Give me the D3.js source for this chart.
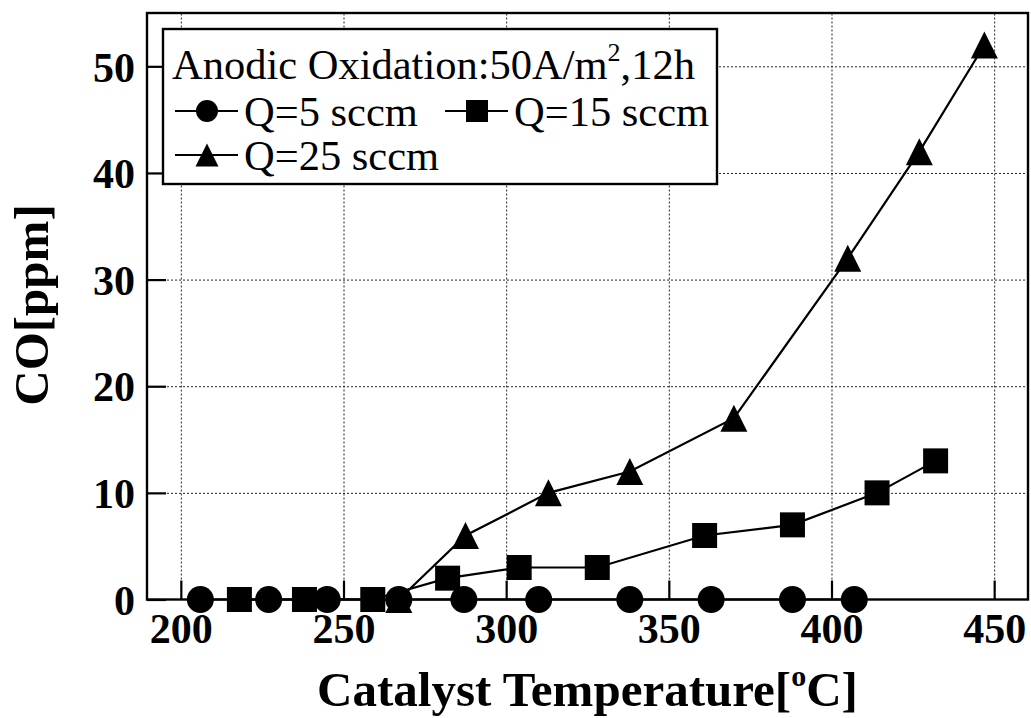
<!DOCTYPE html>
<html>
<head>
<meta charset="utf-8">
<script src="https://cdn.jsdelivr.net/npm/d3@7"></script>
<style>
  body { margin: 0; background: #fff; }
  svg text { font-family: "Liberation Serif", "Times New Roman", serif; fill: #000; }
</style>
</head>
<body>
<div id="chart"></div>
<script>
// Q = 5 sccm
const temp5 = [206, 227, 245, 267, 287, 310, 338, 363, 388, 407];
const co5 = [0, 0, 0, 0, 0, 0, 0, 0, 0, 0];
// Q = 15 sccm
const temp15 = [218, 238, 259, 282, 304, 328, 361, 388, 414, 432];
const co15 = [0, 0, 0, 2, 3, 3, 6, 7, 10, 13];
// Q = 25 sccm
const temp25 = [267, 287.5, 313, 338, 370, 405, 427, 447];
const co25 = [0, 6, 10, 12, 17, 32, 42, 52];

const xTicks = [200, 250, 300, 350, 400, 450];
const yTicks = [0, 10, 20, 30, 40, 50];
const seriesNames = ['Q=5 sccm', 'Q=15 sccm', 'Q=25 sccm'];

const W = 1031, H = 718;
const plot = {left: 147, top: 13, right: 1028, bottom: 599.5};
const serif = '"Liberation Serif", "Times New Roman", serif';

const svg = d3.select('#chart').append('svg')
    .attr('width', W)
    .attr('height', H);

svg.append('rect').attr('width', W).attr('height', H).attr('fill', '#fff');

const x = d3.scaleLinear().domain([189.6, 460.4]).range([plot.left, plot.right]);
const y = d3.scaleLinear().domain([0, 55]).range([plot.bottom, plot.top]);

// grid (dotted)
svg.append('g')
    .attr('transform', `translate(0,${plot.bottom})`)
    .call(d3.axisBottom(x).tickValues(xTicks).tickSize(-(plot.bottom - plot.top)).tickFormat(''))
    .call(g => g.select('.domain').remove())
    .selectAll('line')
    .attr('stroke', '#222')
    .attr('stroke-width', 1)
    .attr('stroke-dasharray', '2,2');

svg.append('g')
    .attr('transform', `translate(${plot.left},0)`)
    .call(d3.axisLeft(y).tickValues(yTicks.filter(d => d > 0)).tickSize(-(plot.right - plot.left)).tickFormat(''))
    .call(g => g.select('.domain').remove())
    .selectAll('line')
    .attr('stroke', '#222')
    .attr('stroke-width', 1)
    .attr('stroke-dasharray', '2,2');

// axes, ticks pointing inward
const xAxis = svg.append('g')
    .attr('transform', `translate(0,${plot.bottom})`)
    .call(d3.axisBottom(x).tickValues(xTicks).tickSizeInner(-19).tickSizeOuter(0).tickPadding(14));
xAxis.select('.domain').remove();
xAxis.selectAll('line').attr('stroke', '#000').attr('stroke-width', 2.2);
xAxis.selectAll('text')
    .attr('dy', '0.71em')
    .style('font-size', '42px')
    .style('font-weight', 'bold')
    .style('font-family', serif)
    .attr('fill', '#000');

const yAxis = svg.append('g')
    .attr('transform', `translate(${plot.left},0)`)
    .call(d3.axisLeft(y).tickValues(yTicks).tickSizeInner(-19).tickSizeOuter(0).tickPadding(12));
yAxis.select('.domain').remove();
yAxis.selectAll('line').attr('stroke', '#000').attr('stroke-width', 2.2);
yAxis.selectAll('text')
    .attr('dy', '0.35em')
    .style('font-size', '42px')
    .style('font-weight', 'bold')
    .style('font-family', serif)
    .attr('fill', '#000');

// frame
svg.append('rect')
    .attr('x', plot.left).attr('y', plot.top)
    .attr('width', plot.right - plot.left).attr('height', plot.bottom - plot.top)
    .attr('fill', 'none').attr('stroke', '#000').attr('stroke-width', 2.4);

// markers
const triangle = {
    draw(ctx, size) {
        const s = Math.sqrt(size);
        ctx.moveTo(0, -s / 2);
        ctx.lineTo(s / 2, s / 2);
        ctx.lineTo(-s / 2, s / 2);
        ctx.closePath();
    }
};
const shapes = [
    d3.symbol(d3.symbolCircle, Math.PI * 13.5 * 13.5),
    d3.symbol(d3.symbolSquare, 25 * 25),
    d3.symbol(triangle, 27 * 27)
];
const legendShapes = [
    d3.symbol(d3.symbolCircle, Math.PI * 11 * 11),
    d3.symbol(d3.symbolSquare, 22 * 22),
    d3.symbol(triangle, 23 * 23)
];

const series = [
    temp5.map((t, i) => [t, co5[i]]),
    temp15.map((t, i) => [t, co15[i]]),
    temp25.map((t, i) => [t, co25[i]])
];

const line = d3.line().x(d => x(d[0])).y(d => y(d[1]));

series.forEach(s => {
    svg.append('path')
        .datum(s)
        .attr('d', line)
        .attr('fill', 'none')
        .attr('stroke', '#000')
        .attr('stroke-width', 2.2);
});

series.forEach((s, k) => {
    svg.append('g').selectAll('path')
        .data(s)
        .join('path')
        .attr('transform', d => `translate(${x(d[0])},${y(d[1])})`)
        .attr('d', shapes[k])
        .attr('fill', '#000');
});

// legend
const legend = svg.append('g');
legend.append('rect')
    .attr('x', 163).attr('y', 29)
    .attr('width', 554).attr('height', 155)
    .attr('fill', '#fff').attr('stroke', '#000').attr('stroke-width', 2.4);

const title = legend.append('text')
    .attr('x', 172).attr('y', 79)
    .style('font-size', '42.5px');
title.append('tspan').text('Anodic Oxidation:50A/m');
title.append('tspan').attr('dy', -18).style('font-size', '26px').text('2');
title.append('tspan').attr('dy', 18).text(',12h');

const legendItems = [
    {lx: 175, ly: 111},
    {lx: 445, ly: 111},
    {lx: 175, ly: 155}
];
legendItems.forEach((p, k) => {
    const g = legend.append('g').attr('transform', `translate(${p.lx},${p.ly})`);
    g.append('line').attr('x1', 0).attr('x2', 63).attr('stroke', '#000').attr('stroke-width', 2.2);
    g.append('path').attr('transform', 'translate(32,0)').attr('d', legendShapes[k]).attr('fill', '#000');
    g.append('text').attr('x', 69).attr('dy', '0.35em').style('font-size', '42.5px').text(seriesNames[k]);
});

// axis titles
const xt = svg.append('text')
    .attr('x', (plot.left + plot.right) / 2)
    .attr('y', 706)
    .attr('text-anchor', 'middle')
    .style('font-size', '49px')
    .style('font-weight', 'bold');
xt.append('tspan').text('Catalyst Temperature[');
xt.append('tspan').attr('dy', -20).style('font-size', '30px').text('o');
xt.append('tspan').attr('dy', 20).text('C]');

svg.append('text')
    .attr('transform', 'translate(48,305) rotate(-90)')
    .attr('text-anchor', 'middle')
    .style('font-size', '49px')
    .style('font-weight', 'bold')
    .text('CO[ppm]');
</script>
</body>
</html>
